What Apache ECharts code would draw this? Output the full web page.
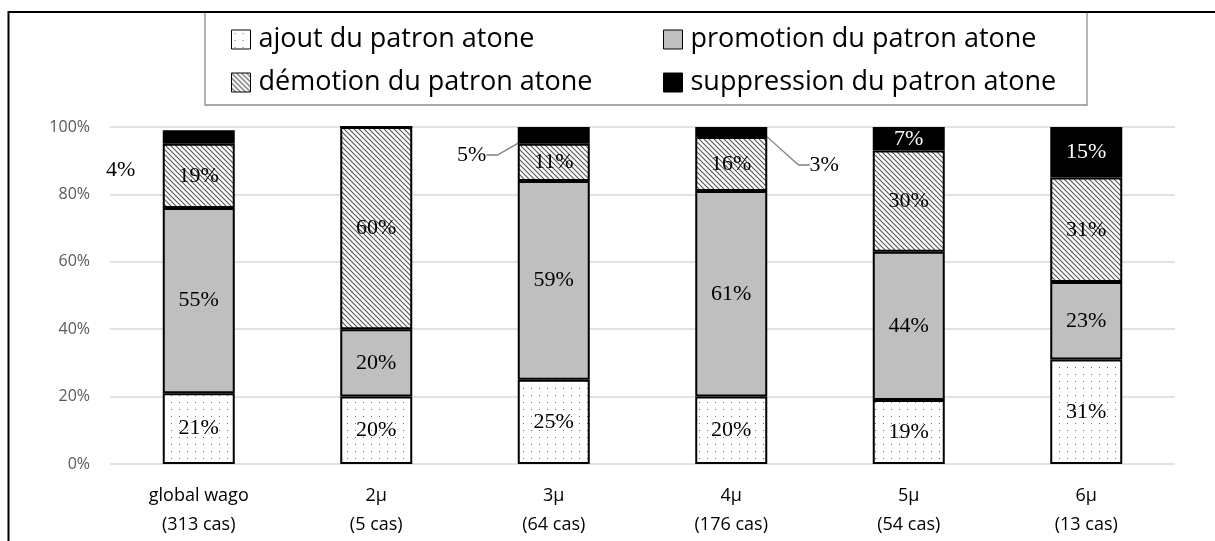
<!DOCTYPE html>
<html>
<head>
<meta charset="utf-8">
<script src="https://cdn.jsdelivr.net/npm/echarts@6/dist/echarts.min.js"></script>
<style>
  html, body { margin: 0; padding: 0; background: #fff; }
  #chart { width: 1215px; height: 541px; }
</style>
</head>
<body>
<div id="chart"></div>
<script>
const groups = ["global wago", "2μ", "3μ", "4μ", "5μ", "6μ"];
const caseCounts = [313, 5, 64, 176, 54, 13];
const seriesNames = [
  "ajout du patron atone",
  "promotion du patron atone",
  "démotion du patron atone",
  "suppression du patron atone"
];
const ajout = [21, 20, 25, 20, 19, 31];
const promotion = [55, 20, 59, 61, 44, 23];
const demotion = [19, 60, 11, 16, 30, 31];
const suppression = [4, 0, 5, 3, 7, 15];

// small slices whose label sits outside the bar
const outsideLabels = { 0: "left", 2: "leftLine", 3: "rightLine" };

const LABEL_FONT = "Liberation Serif";
const UI_FONT = "Open Sans";

function makeHatch() {
  const c = document.createElement("canvas");
  c.width = 5;
  c.height = 5;
  const g = c.getContext("2d");
  g.fillStyle = "#fff";
  g.fillRect(0, 0, 5, 5);
  g.strokeStyle = "#555";
  g.lineWidth = 1.1;
  g.beginPath();
  g.moveTo(-1, -1); g.lineTo(6, 6);
  g.moveTo(-1, 4); g.lineTo(1, 6);
  g.moveTo(4, -1); g.lineTo(6, 1);
  g.stroke();
  return c;
}

function makeDots() {
  const c = document.createElement("canvas");
  c.width = 8;
  c.height = 7;
  const g = c.getContext("2d");
  g.fillStyle = "#fff";
  g.fillRect(0, 0, 8, 7);
  g.fillStyle = "#6e6e6e";
  g.fillRect(3, 3, 1, 1);
  return c;
}

const dotsFill = { image: makeDots(), repeat: "repeat" };
const hatchFill = { image: makeHatch(), repeat: "repeat" };

const baseBar = {
  type: "bar",
  stack: "total",
  barWidth: 72,
  label: {
    show: true,
    position: "inside",
    fontFamily: LABEL_FONT,
    fontSize: 22,
    color: "#000",
    formatter: (p) => (p.value > 0 ? p.value + "%" : "")
  },
  emphasis: { disabled: true }
};

const legendText = {
  fontFamily: UI_FONT,
  fontSize: 27,
  lineHeight: 27,
  color: "#000",
  padding: [0, 0, 0, 3]
};

const chart = echarts.init(document.getElementById("chart"), null, { renderer: "canvas" });

chart.setOption({
  animation: false,
  backgroundColor: "#fff",
  graphic: [
    {
      type: "rect",
      z: 1,
      shape: { x: 205, y: 12, width: 882, height: 93 },
      style: { fill: "#fff", stroke: "#8c8c8c", lineWidth: 1.3 }
    },
    {
      type: "rect",
      z: 2,
      shape: { x: 8.5, y: 12, width: 1400, height: 700 },
      style: { fill: null, stroke: "#000", lineWidth: 2 }
    }
  ],
  legend: [
    {
      data: [seriesNames[0], seriesNames[2]],
      orient: "vertical",
      left: 231,
      top: 26,
      padding: 0,
      itemWidth: 19,
      itemHeight: 19,
      itemGap: 16,
      icon: "rect",
      itemStyle: { borderWidth: 1 },
      textStyle: legendText,
      z: 5
    },
    {
      data: [seriesNames[1], seriesNames[3]],
      orient: "vertical",
      left: 663,
      top: 26,
      padding: 0,
      itemWidth: 19,
      itemHeight: 19,
      itemGap: 16,
      icon: "rect",
      itemStyle: { borderWidth: 1 },
      textStyle: legendText,
      z: 5
    }
  ],
  grid: { left: 110, right: 40, top: 127, bottom: 77 },
  xAxis: {
    type: "category",
    data: groups.map((g, i) => g + "\n(" + caseCounts[i] + " cas)"),
    axisLine: { show: false },
    axisTick: { show: false },
    axisLabel: {
      margin: 17,
      fontFamily: UI_FONT,
      fontSize: 18,
      lineHeight: 29,
      color: "#000"
    }
  },
  yAxis: {
    type: "value",
    min: 0,
    max: 100,
    interval: 20,
    axisLine: { show: false },
    axisTick: { show: false },
    axisLabel: {
      formatter: "{value}%",
      margin: 20,
      fontFamily: UI_FONT,
      fontSize: 16,
      color: "#595959"
    },
    splitLine: { lineStyle: { color: "#d9d9d9", width: 1.5 } }
  },
  series: [
    Object.assign({}, baseBar, {
      name: seriesNames[0],
      data: ajout,
      itemStyle: { color: dotsFill, borderColor: "#000", borderWidth: 2 }
    }),
    Object.assign({}, baseBar, {
      name: seriesNames[1],
      data: promotion,
      itemStyle: { color: "#bfbfbf", borderColor: "#000", borderWidth: 2 }
    }),
    Object.assign({}, baseBar, {
      name: seriesNames[2],
      data: demotion,
      itemStyle: { color: hatchFill, borderColor: "#000", borderWidth: 2 }
    }),
    Object.assign({}, baseBar, {
      name: seriesNames[3],
      itemStyle: { color: "#000", borderColor: "#000", borderWidth: 2 },
      data: suppression.map((v, i) => ({
        value: v,
        label: { color: outsideLabels[i] ? "#000" : "#fff" },
        labelLine: { show: outsideLabels[i] === "leftLine" || outsideLabels[i] === "rightLine" }
      })),
      labelLine: { show: false, length2: 11, lineStyle: { color: "#808080", width: 1.3 } },
      labelLayout(params) {
        const kind = outsideLabels[params.dataIndex];
        const r = params.rect;
        if (kind === "left") {
          return { x: r.x - 42, y: r.y + 40, align: "center", verticalAlign: "middle" };
        }
        if (kind === "leftLine") {
          return {
            x: r.x - 46, y: r.y + 28, align: "center", verticalAlign: "middle",
            labelLinePoints: [[r.x + 1, r.y + 10], [r.x - 8, r.y + 25], [r.x - 21, r.y + 25]]
          };
        }
        if (kind === "rightLine") {
          return {
            x: r.x + r.width + 57, y: r.y + 38, align: "center", verticalAlign: "middle",
            labelLinePoints: [[r.x + r.width, r.y + 6], [r.x + r.width + 18, r.y + 38], [r.x + r.width + 30, r.y + 38]]
          };
        }
        return {};
      }
    })
  ]
});
</script>
</body>
</html>
